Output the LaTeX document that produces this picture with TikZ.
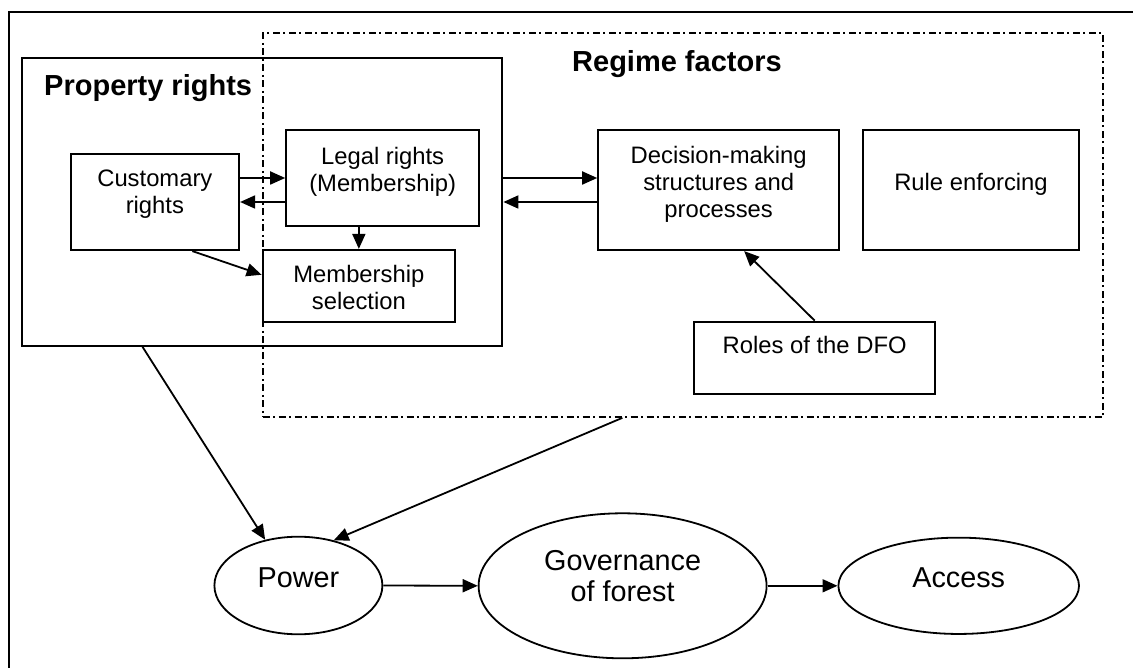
\documentclass[tikz,border=0pt]{standalone}
\usepackage{fontspec}
\setmainfont{Liberation Sans}
\usetikzlibrary{arrows.meta,shapes.geometric,calc}
\begin{document}
\begin{tikzpicture}[x=1pt,y=-1pt,
  box/.style={draw, rectangle, line width=2.2pt, inner sep=0pt},
  frame/.style={draw, rectangle, line width=2.2pt, inner sep=0pt},
  dashframe/.style={draw, rectangle, line width=1.7pt, inner sep=0pt,
    dash pattern=on 7pt off 3.5pt on 2pt off 3.5pt},
  oval/.style={draw, ellipse, line width=1.8pt, inner sep=0pt},
  btxt/.style={inner sep=0pt, align=center, anchor=base,
    font=\fontsize{23.8pt}{27pt}\selectfont},
  otxt/.style={inner sep=0pt, align=center, anchor=base,
    font=\fontsize{28.8pt}{31.7pt}\selectfont},
  ttl/.style={inner sep=0pt, anchor=base west,
    font=\fontsize{29pt}{32pt}\selectfont\bfseries},
  arr/.style={line width=1.8pt, -{Triangle[length=15pt,width=13pt]}}
]
\useasboundingbox (0,0) rectangle (1133,668);

% outer frame (its right and bottom sides lie beyond the page)
\draw[line width=2.2pt] (1140,12) -- (8.7,12) -- (8.7,675);

% group frames
\node[frame, minimum width=480.3pt, minimum height=288pt] (prop) at (262.15,201.7) {};
\node[dashframe, minimum width=840.6pt, minimum height=383.7pt] (regime) at (683,225.15) {};
\node[ttl] (propT) at (44,96) {Property rights};
\node[ttl] (regimeT) at (572,71.7) {Regime factors};

% boxes
\node[box, minimum width=168.3pt, minimum height=96pt] (cust) at (154.85,202) {};
\node[box, minimum width=192.7pt, minimum height=96pt] (legal) at (382.65,178) {};
\node[box, minimum width=192.3pt, minimum height=71.7pt] (memb) at (358.85,285.85) {};
\node[box, minimum width=240.7pt, minimum height=120pt] (dec) at (718.65,190) {};
\node[box, minimum width=216.6pt, minimum height=120pt] (rule) at (971,190) {};
\node[box, minimum width=240.7pt, minimum height=72.3pt] (roles) at (814.65,357.85) {};

% multi-line labels are placed by the baseline of their last line
\node[btxt] (custT) at (154.85,214) {Customary\\rights};
\node[btxt] (legalT) at (382.65,191.2) {Legal rights\\(Membership)};
\node[btxt] (membT) at (358.85,309.5) {Membership\\selection};
\node[btxt] (decT) at (718.65,217.3) {Decision-making\\structures and\\processes};
\node[btxt] (ruleT) at (971,190.7) {Rule enforcing};
\node[btxt] (rolesT) at (814.65,354) {Roles of the DFO};

% outcome ellipses
\node[oval, minimum width=168pt, minimum height=97.6pt] (power) at (298.4,585.5) {};
\node[oval, minimum width=288pt, minimum height=145pt] (gov) at (622.6,585.8) {};
\node[oval, minimum width=240.6pt, minimum height=96.3pt] (access) at (958.7,585.8) {};

\node[otxt] (powerT) at (298.4,587) {Power};
\node[otxt] (govT) at (622.6,601.7) {Governance\\of forest};
\node[otxt] (accessT) at (958.7,587.3) {Access};

% connectors
\draw[arr] (cust.east |- legal.west) -- (legal.west);
\draw[arr] (legal.west |- cust.east) -- (cust.east);
\draw[arr] (legal.south -| memb.north) -- (memb.north);
\draw[arr] ($(cust.south west)!0.72!(cust.south east)$) -- ($(memb.north west)!0.35!(memb.south west)$);
\draw[arr] (prop.east |- legal.west) -- (dec.west |- legal.west);
\draw[arr] (dec.west |- cust.east) -- (prop.east |- cust.east);
\draw[arr] (roles.north) -- ($(dec.south west)!0.605!(dec.south east)$);
\draw[arr] ($(prop.south west)!0.252!(prop.south east)$) -- (power.126);
\draw[arr] ($(regime.south west)!0.428!(regime.south east)$) -- (power.52);
\draw[arr] (power.east) -- (gov.west);
\draw[arr] (gov.east) -- (access.west);
\end{tikzpicture}
\end{document}
